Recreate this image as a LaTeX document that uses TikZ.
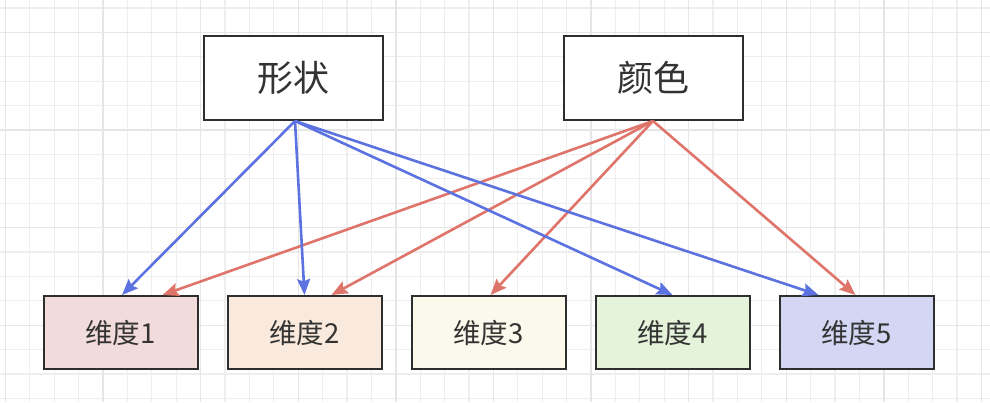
\documentclass[tikz,border=0pt]{standalone}
\usepackage{fontspec}
\setmainfont{Noto Sans CJK SC}
\usetikzlibrary{arrows.meta}
\definecolor{gridminor}{HTML}{EEEEEE}
\definecolor{gridmajor}{HTML}{E6E6E6}
\definecolor{edgeblue}{HTML}{5B72E0}
\definecolor{edgered}{HTML}{DF746B}
\definecolor{boxline}{HTML}{2E2E2E}
\definecolor{txt}{HTML}{333333}
\definecolor{fillA}{HTML}{F2DCDB}
\definecolor{fillB}{HTML}{F9EADD}
\definecolor{fillC}{HTML}{FBF9EB}
\definecolor{fillD}{HTML}{E5F3DB}
\definecolor{fillE}{HTML}{D3D7F3}
\tikzset{
  topbox/.style={draw=boxline, line width=2pt, fill=white, minimum width=179pt, minimum height=84pt, inner sep=0pt, text=txt, font=\fontsize{36}{40}\selectfont},
  dimbox/.style={draw=boxline, line width=2pt, minimum width=154pt, minimum height=73pt, inner sep=0pt, text=txt, font=\fontsize{27.5}{32}\selectfont},
  bluearrow/.style={draw=edgeblue, line width=2.6pt, -{Stealth[length=16pt,width=13pt,inset=2.5pt]}},
  redarrow/.style={draw=edgered, line width=2.6pt, -{Stealth[length=16pt,width=13pt,inset=2.5pt]}},
}
\begin{document}
\begin{tikzpicture}[x=1pt,y=-1pt]
\useasboundingbox (0,0) rectangle (990,402);
\fill[white] (0,0) rectangle (990,402);
% grid
\foreach \i in {0,...,40} {
  \draw[gridminor, line width=1.2pt] ({5.4+24.4*\i},0) -- ({5.4+24.4*\i},402);
}
\foreach \i in {0,...,16} {
  \draw[gridminor, line width=1.2pt] (0,{8+24.4*\i}) -- (990,{8+24.4*\i});
}
\foreach \i in {0,...,10} {
  \draw[gridmajor, line width=1.4pt] ({5.4+97.6*\i},0) -- ({5.4+97.6*\i},402);
}
\foreach \i in {0,...,4} {
  \draw[gridmajor, line width=1.4pt] (0,{32.4+97.6*\i}) -- (990,{32.4+97.6*\i});
}
% nodes
\node[topbox] (shape) at (293.5,78) {形状};
\node[topbox] (color) at (653,78) {颜色};
\node[dimbox, fill=fillA] (d1) at (120.5,332.5) {维度1};
\node[dimbox, fill=fillB] (d2) at (304.5,332.5) {维度2};
\node[dimbox, fill=fillC] (d3) at (488.5,332.5) {维度3};
\node[dimbox, fill=fillD] (d4) at (672.5,332.5) {维度4};
\node[dimbox, fill=fillE] (d5) at (856.5,332.5) {维度5};
% end points on box tops
\coordinate (s0) at ([xshift=1.5pt]shape.south);
\coordinate (c0) at (color.south);
\coordinate (d1b) at ([xshift=1.5pt]d1.north);
\coordinate (d1r) at ([xshift=42pt]d1.north);
\coordinate (d2b) at (d2.north);
\coordinate (d2r) at ([xshift=27pt]d2.north);
\coordinate (d3r) at ([xshift=2pt]d3.north);
\coordinate (d4b) at (d4.north);
\coordinate (d5b) at ([xshift=-38pt]d5.north);
\coordinate (d5r) at ([xshift=-1pt]d5.north);
% arrows
\draw[redarrow] (c0) -- (d1r);
\draw[redarrow] (c0) -- (d2r);
\draw[redarrow] (c0) -- (d3r);
\draw[redarrow] (c0) -- (d5r);
\draw[bluearrow] (s0) -- (d1b);
\draw[bluearrow] (s0) -- (d2b);
\draw[bluearrow] (s0) -- (d4b);
\draw[bluearrow] (s0) -- (d5b);
\end{tikzpicture}
\end{document}
